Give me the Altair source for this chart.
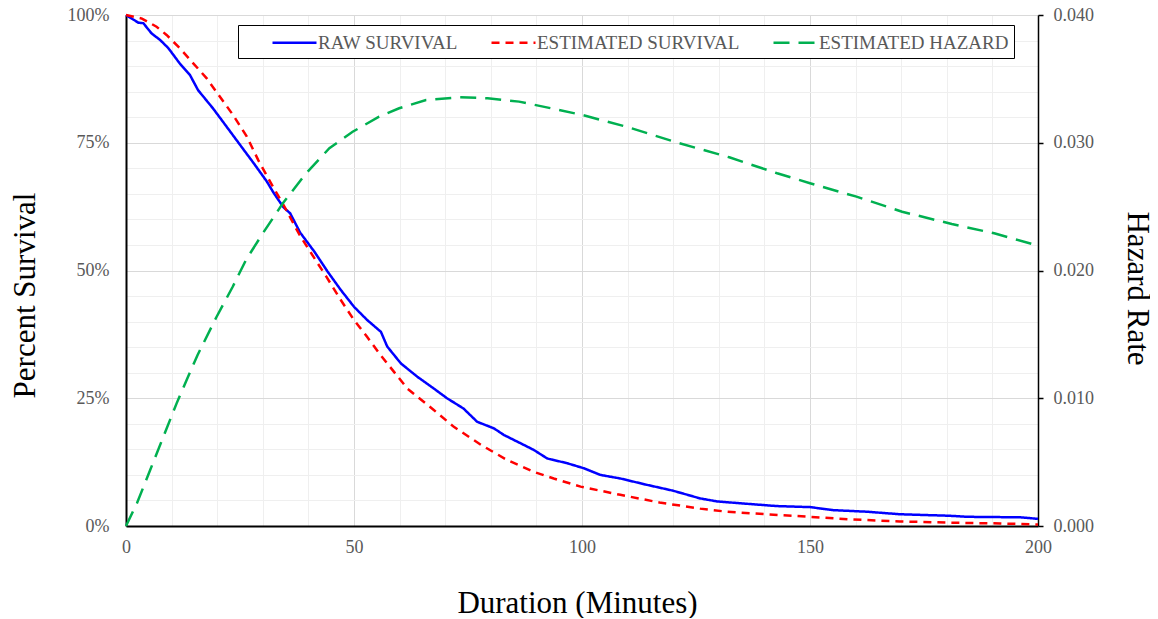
import altair as alt
import pandas as pd

# ---- data ----
raw_t = [0, 2.7, 3.8, 5.6, 7.5, 9.3, 11.8, 14, 15.8, 19.1, 22.1, 25, 28, 30.9, 32.3, 34.5, 36,
         38.2, 41.3, 44.2, 47.1, 50, 52.9, 55.9, 57.3, 60.3, 63.9, 67.5, 70.4, 74, 77, 80.7,
         82.9, 86.5, 89.4, 92.4, 96.7, 100.4, 104, 108.4, 114, 120, 125.9, 129.7, 135.4,
         142.7, 150, 155.1, 162.4, 169.7, 180.7, 184.4, 196.1, 200]
raw_s = [100, 98.5, 98.4, 96.4, 95.1, 93.5, 90.5, 88.3, 85.3, 81.7, 78.1, 74.6, 71, 67.4, 65.3,
         62.4, 61.2, 57.4, 53.7, 49.8, 46.2, 42.9, 40.3, 38, 35.1, 31.8, 29.2, 26.9, 25, 23,
         20.4, 19.1, 17.8, 16.2, 14.9, 13.2, 12.3, 11.3, 10, 9.3, 8.1, 6.9, 5.4, 4.8, 4.4, 3.9,
         3.7, 3.1, 2.8, 2.3, 2.0, 1.8, 1.7, 1.4]

est_t = [0, 3.5, 6.7, 8.9, 11.8, 14.8, 17.7, 20.6, 23.5, 26.5, 29, 31.6, 34.8, 38.1, 41.1, 44,
         46.9, 50, 52.9, 55.7, 57.3, 61.7, 67.5, 71.9, 77.8, 83.6, 89.4, 93.8, 99.7, 108.4,
         117, 125.9, 131.7, 140.5, 150, 158.8, 169.7, 180.7, 191.7, 200]
est_s = [100, 99.3, 97.7, 96.1, 93.5, 90.5, 87.6, 84, 80.4, 76.2, 71.6, 67.4, 62.4, 56.9, 52.7,
         48.7, 44.5, 40.3, 37, 33.6, 31.8, 26.9, 22.7, 19.4, 15.9, 12.9, 10.6, 9.3, 7.7, 6.1,
         4.6, 3.4, 2.8, 2.3, 1.8, 1.3, 0.9, 0.65, 0.5, 0.3]

haz_t = [0, 2.4, 5.3, 8.2, 11.1, 13.3, 15.7, 19.7, 23.4, 26.3, 30, 34.4, 39.5, 44.6, 49.7, 55.5,
         59.9, 65.8, 73.2, 79.3, 86.2, 93.2, 100.1, 109.7, 121, 132.3, 142.8, 150, 160.2,
         170.2, 181.1, 190.4, 200]
haz_h = [0, 0.00178, 0.00438, 0.00699, 0.0096, 0.01143, 0.01339, 0.01626, 0.01873, 0.02082,
         0.02291, 0.02526, 0.02761, 0.02957, 0.03086, 0.03204, 0.0327, 0.03335, 0.03356,
         0.03348, 0.03322, 0.0327, 0.03217, 0.03126, 0.030, 0.02886, 0.02761, 0.02683,
         0.02578, 0.0246, 0.02364, 0.02291, 0.02194]

series_names = ["RAW SURVIVAL", "ESTIMATED SURVIVAL", "ESTIMATED HAZARD"]
series_colors = ["#0000ff", "#ff0000", "#00b050"]
series_dashes = [[1, 0], [8, 6], [16, 9]]

x_ticks = list(range(0, 201, 10))
y_ticks = list(range(0, 101, 5))
h_ticks = [0, 0.01, 0.02, 0.03, 0.04]

surv_df = pd.DataFrame({
    "t": raw_t + est_t,
    "value": raw_s + est_s,
    "series": [series_names[0]] * len(raw_t) + [series_names[1]] * len(est_t),
})
haz_df = pd.DataFrame({"t": haz_t, "value": haz_h, "series": [series_names[2]] * len(haz_t)})

FONT = "Liberation Serif"
LABEL_COLOR = "#595959"

x_enc = alt.X(
    "t:Q",
    scale=alt.Scale(domain=[0, 200], nice=False),
    axis=alt.Axis(
        values=x_ticks,
        labelExpr="datum.value % 50 === 0 ? datum.label : ''",
        ticks=False, tickSize=0, labelFlush=False,
        grid=True,
        gridColor={"condition": {"test": "datum.value % 50 === 0", "value": "#d9d9d9"}, "value": "#efefef"},
        domainColor="black", domainWidth=2,
        labelFont=FONT, labelFontSize=18, labelColor=LABEL_COLOR, labelPadding=12,
        title="Duration (Minutes)", titleFont=FONT, titleFontSize=31, titleFontWeight="normal",
        titleColor="black", titleX=451, titleY=77, titleAlign="center", titleBaseline="middle",
    ),
)

legend = alt.Legend(
    orient="none", legendX=112, legendY=10, direction="horizontal", title=None,
    strokeColor="black", fillColor="white", padding=5,
    symbolType="M-2,0H2", symbolSize=484, symbolStrokeWidth=2.5, symbolOffset=39,
    labelFont=FONT, labelFontSize=19, labelColor=LABEL_COLOR, labelOffset=11,
    columnPadding=4, labelLimit=400,
    labelExpr="datum.label === 'ESTIMATED HAZARD' ? datum.label + '\u2003\u2002\u2009\u00a0\u00a0\u00a0' : datum.label",
)

color_enc = alt.Color("series:N", scale=alt.Scale(domain=series_names, range=series_colors), legend=legend)
dash_enc = alt.StrokeDash("series:N", scale=alt.Scale(domain=series_names, range=series_dashes), legend=legend)

surv = alt.Chart(surv_df).mark_line(strokeWidth=2.5).encode(
    x=x_enc,
    y=alt.Y(
        "value:Q",
        scale=alt.Scale(domain=[0, 100], nice=False),
        axis=alt.Axis(
            values=y_ticks,
            labelExpr="datum.value % 25 === 0 ? datum.value + '%' : ''",
            ticks=False, tickSize=0, labelFlush=False,
            grid=True,
            gridColor={"condition": {"test": "datum.value % 25 === 0", "value": "#d9d9d9"}, "value": "#efefef"},
            domainColor="black", domainWidth=2,
            labelFont=FONT, labelFontSize=18, labelColor=LABEL_COLOR, labelPadding=17,
            title="Percent Survival", titleFont=FONT, titleFontSize=31, titleFontWeight="normal",
            titleColor="black", titleX=-101, titleY=280, titleAngle=270,
            titleAlign="center", titleBaseline="middle",
        ),
    ),
    color=color_enc,
    strokeDash=dash_enc,
    order=alt.Order("t:Q"),
)

haz = alt.Chart(haz_df).mark_line(strokeWidth=2.5).encode(
    x=x_enc,
    y=alt.Y(
        "value:Q",
        scale=alt.Scale(domain=[0, 0.04], nice=False),
        axis=alt.Axis(
            orient="right", values=h_ticks, format=".3f", labelFlush=False,
            grid=False, ticks=True, tickSize=5, tickColor="black", tickWidth=1.5,
            domainColor="black", domainWidth=1.5,
            labelFont=FONT, labelFontSize=18, labelColor=LABEL_COLOR, labelPadding=10,
            title="Hazard Rate", titleFont=FONT, titleFontSize=31, titleFontWeight="normal",
            titleColor="black", titleX=98, titleY=273, titleAngle=90,
            titleAlign="center", titleBaseline="middle",
        ),
    ),
    color=color_enc,
    strokeDash=dash_enc,
    order=alt.Order("t:Q"),
)

chart = alt.layer(surv, haz).resolve_scale(y="independent").properties(
    width=912, height=511,
    autosize=alt.AutoSizeParams(type="none"),
    padding={"left": 118, "top": 7, "right": 112, "bottom": 92},
).configure_view(stroke=None).configure(background="white")

chart.save("out.html", embed_options={"renderer": "svg", "actions": False})
